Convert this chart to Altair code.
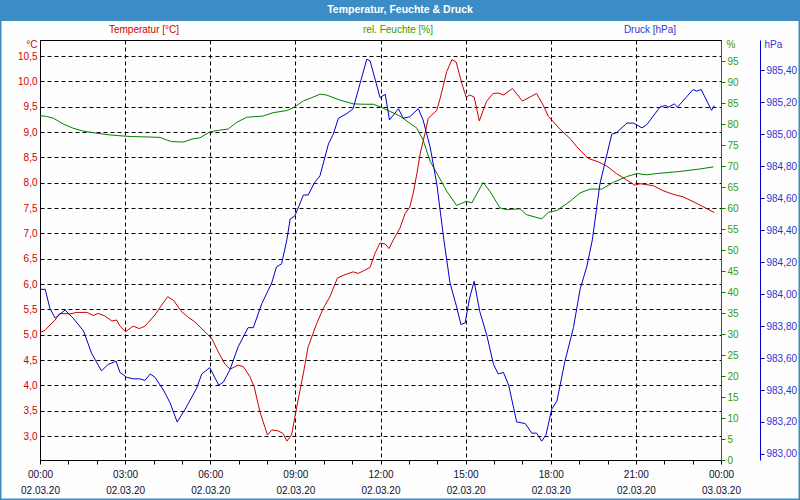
import altair as alt
import pandas as pd

# ---- data (minutes after 00:00 on 02.03.20) ----
temp_min = [0, 11, 21, 32, 42, 63, 78, 99, 113, 123, 137, 152, 162, 169, 181, 197, 210, 222, 243, 257,
            270, 282, 300, 314, 328, 345, 363, 377, 391, 402, 419, 430, 444, 453, 465, 481, 490, 504, 514, 522,
            532, 543, 557, 567, 585, 599, 613, 629, 641, 662, 673, 684, 698, 708, 719, 730, 738, 747, 761, 772,
            782, 789, 797, 804, 814, 821, 839, 846, 860, 871, 880, 892, 901, 909, 918, 929, 944, 958, 969, 980,
            999, 1020, 1050, 1064, 1075, 1100, 1121, 1135, 1159, 1181, 1198, 1219, 1241, 1258, 1269, 1297, 1318,
            1339, 1360, 1389, 1426]
temp_val = [5.04, 5.09, 5.19, 5.29, 5.42, 5.41, 5.44, 5.44, 5.38, 5.42, 5.37, 5.27, 5.29, 5.17, 5.06, 5.17,
            5.12, 5.17, 5.39, 5.58, 5.75, 5.68, 5.45, 5.34, 5.25, 5.09, 4.93, 4.66, 4.42, 4.32, 4.40, 4.37, 4.17,
            3.97, 3.48, 3.02, 3.12, 3.10, 3.05, 2.90, 3.02, 3.58, 4.24, 4.76, 5.22, 5.52, 5.75, 6.12, 6.17, 6.24,
            6.21, 6.26, 6.33, 6.60, 6.81, 6.79, 6.70, 6.87, 7.10, 7.39, 7.52, 7.79, 8.18, 8.58, 8.97, 9.27, 9.43,
            9.66, 10.19, 10.43, 10.38, 9.96, 9.69, 9.73, 9.69, 9.22, 9.60, 9.76, 9.77, 9.73, 9.86, 9.61, 9.76,
            9.53, 9.31, 9.05, 8.87, 8.71, 8.48, 8.41, 8.33, 8.18, 8.05, 7.95, 7.98, 7.94, 7.84, 7.77, 7.72, 7.59,
            7.41]

hum_min = [0, 14, 28, 49, 70, 92, 120, 148, 180, 197, 233, 254, 268, 278, 303, 324, 338, 359, 377, 398,
           416, 437, 472, 493, 522, 536, 557, 571, 592, 606, 634, 662, 684, 705, 719, 740, 761, 782, 797, 810,
           825, 839, 860, 881, 902, 913, 937, 951, 973, 987, 1015, 1029, 1061, 1075, 1093, 1121, 1142, 1163,
           1188, 1212, 1241, 1262, 1283, 1304, 1353, 1396, 1424]
hum_val = [82.0, 81.8, 81.4, 80.0, 79.0, 78.3, 77.8, 77.4, 77.1, 77.0, 76.9, 76.8, 76.2, 75.8, 75.7, 76.5,
           76.7, 78.1, 78.5, 78.8, 80.4, 81.6, 81.9, 82.7, 83.2, 83.9, 85.5, 86.1, 87.1, 86.9, 85.7, 84.8, 84.7,
           84.7, 84.1, 83.0, 81.9, 80.2, 79.0, 76.2, 71.1, 68.3, 64.0, 60.6, 61.6, 61.2, 66.1, 64.0, 60.0, 59.6,
           59.8, 58.4, 57.4, 59.0, 59.4, 61.6, 63.6, 64.5, 64.5, 66.1, 67.5, 68.2, 67.9, 68.2, 68.7, 69.3, 69.8]

pres_min = [0, 11, 21, 32, 53, 70, 92, 109, 130, 144, 161, 169, 183, 197, 211, 222, 233, 243, 261, 275,
            290, 307, 331, 342, 359, 378, 388, 402, 419, 440, 451, 469, 490, 500, 511, 522, 529, 539, 557, 567,
            581, 592, 610, 620, 631, 649, 662, 677, 691, 698, 719, 730, 739, 758, 768, 782, 800, 810, 825, 839,
            854, 867, 881, 890, 899, 908, 918, 930, 945, 959, 969, 980, 991, 1008, 1026, 1040, 1050, 1061, 1070,
            1082, 1093, 1110, 1128, 1142, 1156, 1168, 1184, 1209, 1219, 1241, 1255, 1273, 1283, 1311, 1322, 1329,
            1341, 1348, 1381, 1389, 1398, 1420, 1426]
pres_val = [984.03, 984.03, 983.91, 983.85, 983.90, 983.85, 983.77, 983.63, 983.52, 983.56, 983.58, 983.51,
            983.48, 983.47, 983.47, 983.46, 983.50, 983.48, 983.40, 983.32, 983.20, 983.28, 983.41, 983.50,
            983.54, 983.43, 983.45, 983.53, 983.67, 983.79, 983.79, 983.94, 984.07, 984.17, 984.19, 984.34,
            984.47, 984.49, 984.62, 984.62, 984.70, 984.74, 984.94, 985.00, 985.10, 985.13, 985.16, 985.32,
            985.47, 985.46, 985.23, 985.25, 985.09, 985.16, 985.10, 985.11, 985.16, 985.09, 984.92, 984.69,
            984.34, 984.07, 983.92, 983.81, 983.82, 983.97, 984.08, 983.89, 983.74, 983.56, 983.50, 983.51,
            983.43, 983.20, 983.19, 983.13, 983.13, 983.08, 983.12, 983.28, 983.33, 983.58, 983.79, 984.03,
            984.17, 984.34, 984.69, 985.00, 985.01, 985.07, 985.07, 985.04, 985.06, 985.17, 985.18, 985.17,
            985.19, 985.17, 985.28, 985.27, 985.28, 985.15, 985.18]

hour_ticks = list(range(0, 25))
temp_ticks = [3.0, 3.5, 4.0, 4.5, 5.0, 5.5, 6.0, 6.5, 7.0, 7.5, 8.0, 8.5, 9.0, 9.5, 10.0, 10.5]
hum_ticks = list(range(0, 100, 5))
pres_ticks = [983.0, 983.2, 983.4, 983.6, 983.8, 984.0, 984.2, 984.4, 984.6, 984.8, 985.0, 985.2, 985.4]

chart_title = "Temperatur, Feuchte & Druck"
series_titles = ["Temperatur [°C]", "rel. Feuchte [%]", "Druck [hPa]"]
units = ["°C", "%", "hPa"]

# ---- styling ----
FONT = "Liberation Sans"
RED, GREEN, BLUE = "#cc0000", "#008000", "#0000cc"
RED_L, GREEN_L, BLUE_L = "#d40000", "#3a9a00", "#3535cc"
BAR = "#3c8dc5"

df_t = pd.DataFrame({"h": [m / 60 for m in temp_min], "v": temp_val})
df_h = pd.DataFrame({"h": [m / 60 for m in hum_min], "v": hum_val})
df_p = pd.DataFrame({"h": [m / 60 for m in pres_min], "v": pres_val})
one = pd.DataFrame({"k": [0]})

x_label_expr = ("datum.value % 3 == 0 ? [(datum.value % 24 < 10 ? '0' : '') + (datum.value % 24) + ':00', "
                "datum.value < 24 ? '02.03.20' : '03.03.20'] : ''")

x_enc = alt.X(
    "h:Q",
    scale=alt.Scale(domain=[0, 24], nice=False, zero=False),
    axis=alt.Axis(
        values=hour_ticks, title=None, labelExpr=x_label_expr, labelOverlap=False, labelFlush=False,
        grid=True, gridColor="black", gridDash=[4, 3], gridWidth=1,
        gridOpacity={"condition": {"test": "datum.value % 3 == 0", "value": 1}, "value": 0},
        domainColor="black", tickColor="black", tickSize=4, labelColor="#101030",
        labelFont=FONT, labelFontSize=10, labelPadding=5, labelLineHeight=16, labelBaseline="top",
    ),
)

temp = alt.Chart(df_t).mark_line(color=RED, strokeWidth=1).encode(
    x=x_enc,
    y=alt.Y("v:Q", scale=alt.Scale(domain=[2.527, 10.816], nice=False, zero=False),
            axis=alt.Axis(orient="left", values=temp_ticks,
                          labelExpr="replace(format(datum.value, '.1f'), '.', ',')",
                          grid=True, gridColor="black", gridDash=[4, 3], gridWidth=1,
                          ticks=False, tickSize=0, labelPadding=3, domainColor="black",
                          labelColor=RED_L, labelFont=FONT, labelFontSize=10,
                          labelOverlap=False, labelFlush=False,
                          title=units[0], titleAngle=0, titleX=-3, titleY=4, titleAlign="right",
                          titleBaseline="middle", titleColor=RED_L, titleFont=FONT, titleFontSize=10,
                          titleFontWeight="normal")),
)

hum = alt.Chart(df_h).mark_line(color=GREEN, strokeWidth=1).encode(
    x=x_enc,
    y=alt.Y("v:Q", scale=alt.Scale(domain=[0, 100], nice=False, zero=False),
            axis=alt.Axis(orient="right", values=hum_ticks, format="d", grid=False,
                          domainColor=GREEN, tickColor=GREEN, tickSize=4, labelPadding=2,
                          labelColor=GREEN_L, labelFont=FONT, labelFontSize=10,
                          labelOverlap=False, labelFlush=False,
                          title=units[1], titleAngle=0, titleX=5, titleY=4, titleAlign="left",
                          titleBaseline="middle", titleColor=GREEN_L, titleFont=FONT, titleFontSize=10,
                          titleFontWeight="normal")),
)

pres = alt.Chart(df_p).mark_line(color=BLUE, strokeWidth=1).encode(
    x=x_enc,
    y=alt.Y("v:Q", scale=alt.Scale(domain=[982.962, 985.59], nice=False, zero=False),
            axis=alt.Axis(orient="right", offset=39, values=pres_ticks,
                          labelExpr="replace(format(datum.value, '.2f'), '.', ',')", grid=False,
                          domainColor=BLUE, tickColor=BLUE, tickSize=4, labelPadding=2,
                          labelColor=BLUE_L, labelFont=FONT, labelFontSize=10,
                          labelOverlap=False, labelFlush=False,
                          title=units[2], titleAngle=0, titleX=4, titleY=4, titleAlign="left",
                          titleBaseline="middle", titleColor=BLUE_L, titleFont=FONT, titleFontSize=10,
                          titleFontWeight="normal")),
)

bar = alt.Chart(one).mark_rect(color=BAR).encode(
    x=alt.value(-40), x2=alt.value(760), y=alt.value(-40), y2=alt.value(-19))
title_txt = alt.Chart(one).mark_text(text=chart_title, color="white", font=FONT, fontSize=10.5,
                                     fontWeight="bold", align="center", baseline="middle").encode(
    x=alt.value(360), y=alt.value(-30.5))
h1 = alt.Chart(one).mark_text(text=series_titles[0], color=RED_L, font=FONT, fontSize=10,
                              align="center", baseline="middle").encode(x=alt.value(104), y=alt.value(-10))
h2 = alt.Chart(one).mark_text(text=series_titles[1], color=GREEN_L, font=FONT, fontSize=10,
                              align="center", baseline="middle").encode(x=alt.value(358), y=alt.value(-10))
h3 = alt.Chart(one).mark_text(text=series_titles[2], color=BLUE_L, font=FONT, fontSize=10,
                              align="center", baseline="middle").encode(x=alt.value(610), y=alt.value(-10))
border = alt.Chart(one).mark_rect(fillOpacity=0, stroke=BAR, strokeWidth=3).encode(
    x=alt.value(-40), x2=alt.value(760), y=alt.value(-40), y2=alt.value(460))

chart = alt.layer(temp, hum, pres, bar, title_txt, h1, h2, h3, border).resolve_scale(
    y="independent"
).properties(
    width=681, height=420, autosize="none",
    padding={"left": 40, "top": 40, "right": 79, "bottom": 40},
    background="#fdfefd",
).configure_view(stroke="black", strokeWidth=1)

chart.save("out.html", embed_options={"renderer": "svg", "actions": False})
